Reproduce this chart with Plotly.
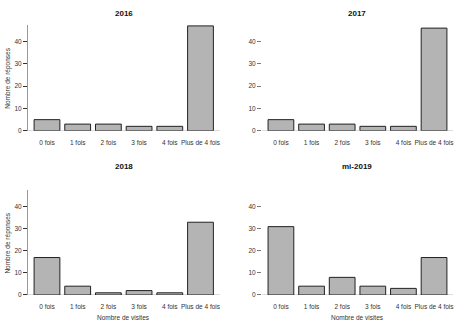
import plotly.graph_objects as go

categories = ["0 fois", "1 fois", "2 fois", "3 fois", "4 fois", "Plus de 4 fois"]
titles = ["2016", "2017", "2018", "mi-2019"]
v2016 = [5, 3, 3, 2, 2, 47]
v2017 = [5, 3, 3, 2, 2, 46]
v2018 = [17, 4, 1, 2, 1, 33]
v2019 = [31, 4, 8, 4, 3, 17]
series = [v2016, v2017, v2018, v2019]
y_ticks = [0, 10, 20, 30, 40]

W, H = 468, 331
xdoms = [[28 / W, 220 / W], [262.5 / W, 454 / W]]
ydoms = [[(H - 132) / H, (H - 25) / H], [(H - 297.7) / H, (H - 192) / H]]

fig = go.Figure()
font = "Liberation Sans, Arial, sans-serif"
for i, (vals, t) in enumerate(zip(series, titles)):
    r, c = divmod(i, 2)
    n = i + 1
    xa = "x" if n == 1 else f"x{n}"
    ya = "y" if n == 1 else f"y{n}"
    fig.add_trace(go.Bar(
        x=categories, y=vals, xaxis=xa, yaxis=ya,
        marker=dict(color="#b4b4b4", line=dict(color="#222222", width=1)),
        showlegend=False,
    ))
    left = c == 0
    fig.update_layout(**{
        ("xaxis" if n == 1 else f"xaxis{n}"): dict(
            domain=xdoms[c], anchor=ya, range=[-0.62, 5.62],
            showline=False, showgrid=False, zeroline=False,
            ticks="outside", ticklen=5, tickcolor="rgba(0,0,0,0)",
            tickfont=dict(size=6.5, color="#333333", family=font),
            fixedrange=True,
        ),
        ("yaxis" if n == 1 else f"yaxis{n}"): dict(
            domain=ydoms[r], anchor=xa, range=[0, 47.5],
            tickvals=y_ticks, ticks="outside", ticklen=4,
            tickcolor="#333333" if left else "#777777", tickwidth=1,
            showline=left, linecolor="#999999", linewidth=1,
            showgrid=False, zeroline=True, zerolinecolor="#dddddd", zerolinewidth=1,
            tickfont=dict(size=6.5, color="#333333", family=font),
        ),
    })
    cx = (xdoms[c][0] + xdoms[c][1]) / 2
    fig.add_annotation(text=f"<b>{t}</b>", xref="paper", yref="paper",
                       x=cx, y=(H - (14 if r == 0 else 168)) / H,
                       showarrow=False, font=dict(size=8, color="#111111", family=font),
                       xanchor="center", yanchor="middle")
    if left:
        fig.add_annotation(text="Nombre de réponses", xref="paper", yref="paper",
                           x=8 / W, y=(ydoms[r][0] + ydoms[r][1]) / 2, textangle=-90,
                           showarrow=False, font=dict(size=6.5, color="#333333", family=font),
                           xanchor="center", yanchor="middle")
    if r == 1:
        fig.add_annotation(text="Nombre de visites", xref="paper", yref="paper",
                           x=cx, y=(H - 320) / H,
                           showarrow=False, font=dict(size=6.5, color="#333333", family=font),
                           xanchor="center", yanchor="middle")

fig.update_layout(
    width=W, height=H, margin=dict(l=0, r=0, t=0, b=0),
    paper_bgcolor="white", plot_bgcolor="white", bargap=0.16,
)
fig.write_html("out.html")
